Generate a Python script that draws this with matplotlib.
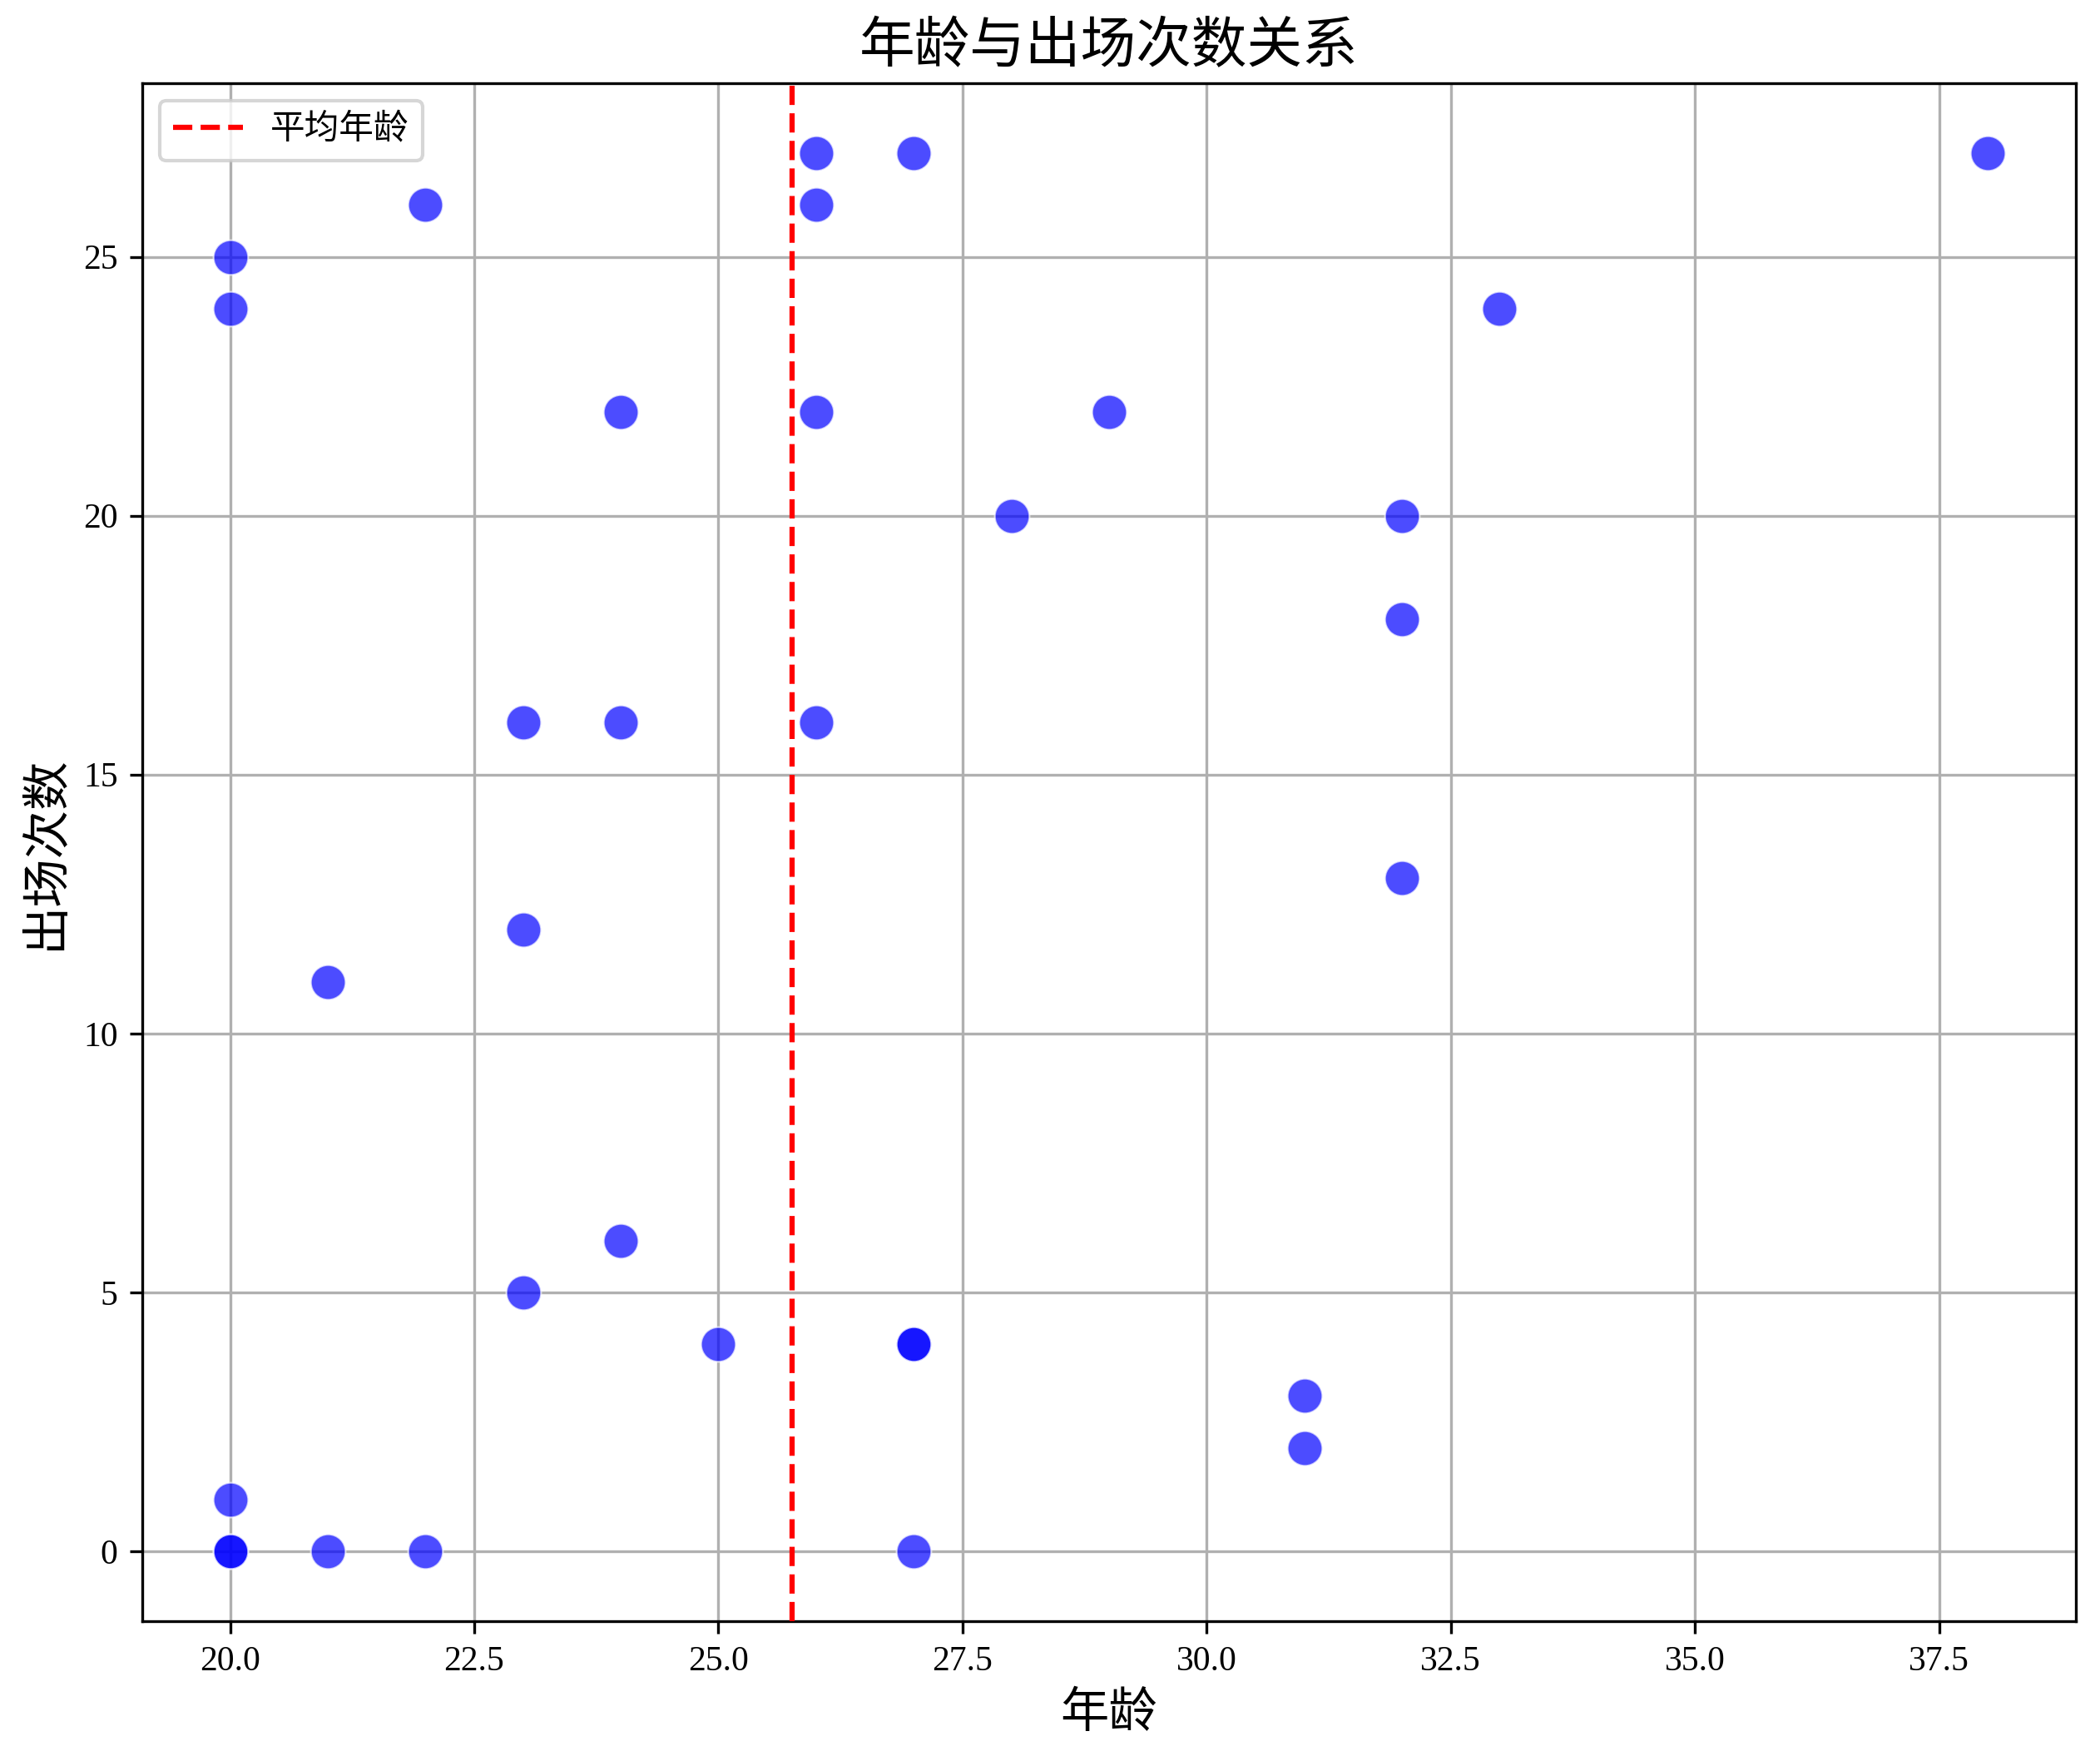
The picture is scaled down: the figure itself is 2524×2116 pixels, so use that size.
import numpy as np
import matplotlib
matplotlib.use("Agg")
import matplotlib.pyplot as plt

plt.rcParams['font.family'] = ['Liberation Serif', 'Noto Sans CJK SC', 'DejaVu Sans']
plt.rcParams['axes.unicode_minus'] = False

# age, appearances (two duplicates at (20,0) and (27,4))
ages = [20, 20, 22, 26, 27, 26, 38, 33, 24, 26, 29, 28, 32, 32, 23, 24, 26,
        32, 23, 21, 24, 23, 25, 27, 27, 31, 31, 20, 20, 20, 21, 22, 27]
apps = [25, 24, 26, 27, 27, 26, 27, 24, 22, 22, 22, 20, 20, 18, 16, 16, 16,
        13, 12, 11, 6, 5, 4, 4, 4, 3, 2, 1, 0, 0, 0, 0, 0]

mean_age = np.mean(ages)

fig = plt.figure(figsize=(2524 / 300, 2116 / 300), dpi=300)
ax = fig.add_axes([0.0677, 0.0794, 0.9208, 0.8733])

ax.scatter(ages, apps, s=100, color="blue", alpha=0.7, edgecolors="white", linewidths=0.5, zorder=3)
ax.axvline(mean_age, color="red", linestyle="--", linewidth=1.5, label="平均年龄", zorder=4)

ax.set_title("年龄与出场次数关系", fontsize=16)
ax.set_xlabel("年龄", fontsize=14)
ax.set_ylabel("出场次数", fontsize=14)
ax.grid(True)
ax.set_axisbelow(True)
ax.legend(loc="upper left")

fig.savefig("out.png", dpi=300)
